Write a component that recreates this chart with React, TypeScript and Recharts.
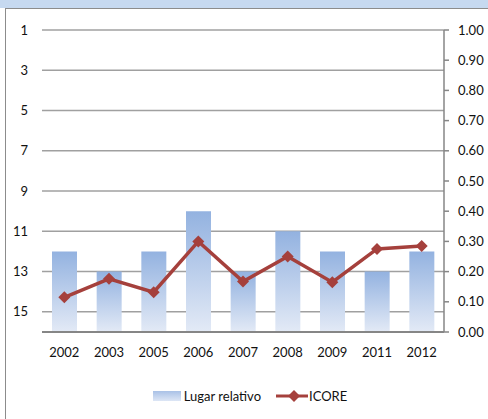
import React from 'react';
import { ComposedChart, Bar, Line, XAxis, YAxis, CartesianGrid, Legend } from 'recharts';

const years = ['2002', '2003', '2005', '2006', '2007', '2008', '2009', '2011', '2012'];
const lugarRelativo = [12, 13, 12, 10, 13, 11, 12, 13, 12];
const icore = [0.115, 0.176, 0.132, 0.3, 0.167, 0.25, 0.165, 0.275, 0.285];
const lugarTicks = [1, 3, 5, 7, 9, 11, 13, 15];
const icoreTicks = [0, 0.1, 0.2, 0.3, 0.4, 0.5, 0.6, 0.7, 0.8, 0.9, 1];
const LUGAR_BASE = 16;

const data = years.map((year, i) => ({
  year,
  lugar: [LUGAR_BASE, lugarRelativo[i]],
  icore: icore[i],
}));

const FONT = 'Lato, "Open Sans", sans-serif';
const LINE_COLOR = '#a5403c';
const TEXT = { fill: '#111', fontSize: 13, fontFamily: FONT };

function Diamond(props: any) {
  const { cx, cy } = props;
  if (cx == null || cy == null) return null;
  const r = 6;
  return <path d={`M${cx},${cy - r}L${cx + r},${cy}L${cx},${cy + r}L${cx - r},${cy}Z`} fill={LINE_COLOR} />;
}

function LegendContent() {
  return (
    <div
      style={{
        display: 'flex',
        justifyContent: 'center',
        alignItems: 'center',
        fontFamily: FONT,
        fontSize: 13,
        color: '#111',
        height: 14,
        paddingLeft: 12,
      }}
    >
      <svg width={28} height={10} style={{ marginRight: 3 }}>
        <defs>
          <linearGradient id="legGrad" x1="0" y1="0" x2="0" y2="1">
            <stop offset="0%" stopColor="#a9c1e6" />
            <stop offset="100%" stopColor="#dde6f5" />
          </linearGradient>
        </defs>
        <rect x={0} y={0} width={28} height={10} fill="url(#legGrad)" />
      </svg>
      <span>Lugar relativo</span>
      <svg width={32} height={12} style={{ marginLeft: 15, marginRight: 1 }}>
        <line x1={0} y1={6} x2={32} y2={6} stroke={LINE_COLOR} strokeWidth={3} />
        <path d="M18,0L24,6L18,12L12,6Z" fill={LINE_COLOR} />
      </svg>
      <span>ICORE</span>
    </div>
  );
}

export default function App() {
  return (
    <div style={{ position: 'absolute', left: 0, top: 0, width: 488, height: 419, background: '#fff', overflow: 'hidden' }}>
      <div style={{ position: 'absolute', left: 0, top: 0, width: 488, height: 8, background: '#c6d9f0' }} />
      <div
        style={{
          position: 'absolute',
          left: 5,
          top: 8,
          width: 500,
          height: 430,
          borderLeft: '1.5px solid #8c8c8c',
          borderTop: '1.5px solid #8c8c8c',
        }}
      />
      <div style={{ position: 'absolute', left: 0, top: 0 }}>
        <ComposedChart width={488} height={419} data={data} margin={{ top: 30, right: 0, bottom: 0, left: 0 }}>
          <defs>
            <linearGradient id="barGrad" x1="0" y1="0" x2="0" y2="1">
              <stop offset="0%" stopColor="#93b2e0" />
              <stop offset="100%" stopColor="#e3eaf6" />
            </linearGradient>
          </defs>
          <CartesianGrid yAxisId="left" vertical={false} stroke="#a0a0a0" strokeWidth={1.5} />
          <XAxis
            dataKey="year"
            height={57}
            tickLine={false}
            axisLine={{ stroke: '#868686', strokeWidth: 2 }}
            tick={TEXT}
            tickMargin={10}
            interval={0}
          />
          <YAxis
            yAxisId="left"
            orientation="left"
            reversed
            domain={[1, LUGAR_BASE]}
            ticks={lugarTicks}
            width={42}
            axisLine={false}
            tickLine={false}
            tickMargin={8}
            tick={TEXT}
            allowDataOverflow
          />
          <YAxis
            yAxisId="right"
            orientation="right"
            domain={[0, 1]}
            ticks={icoreTicks}
            width={44}
            tickSize={5}
            tickMargin={9}
            axisLine={{ stroke: '#868686', strokeWidth: 1.5 }}
            tickLine={{ stroke: '#868686', strokeWidth: 1.5 }}
            tick={{ ...TEXT, textAnchor: 'start' }}
            tickFormatter={(v: number) => v.toFixed(2)}
          />
          <Bar yAxisId="left" dataKey="lugar" name="Lugar relativo" barSize={25} fill="url(#barGrad)" isAnimationActive={false} />
          <Line
            yAxisId="right"
            dataKey="icore"
            name="ICORE"
            stroke={LINE_COLOR}
            strokeWidth={3.5}
            dot={<Diamond />}
            activeDot={false}
            isAnimationActive={false}
          />
          <Legend verticalAlign="bottom" height={30} content={<LegendContent />} />
        </ComposedChart>
      </div>
    </div>
  );
}
